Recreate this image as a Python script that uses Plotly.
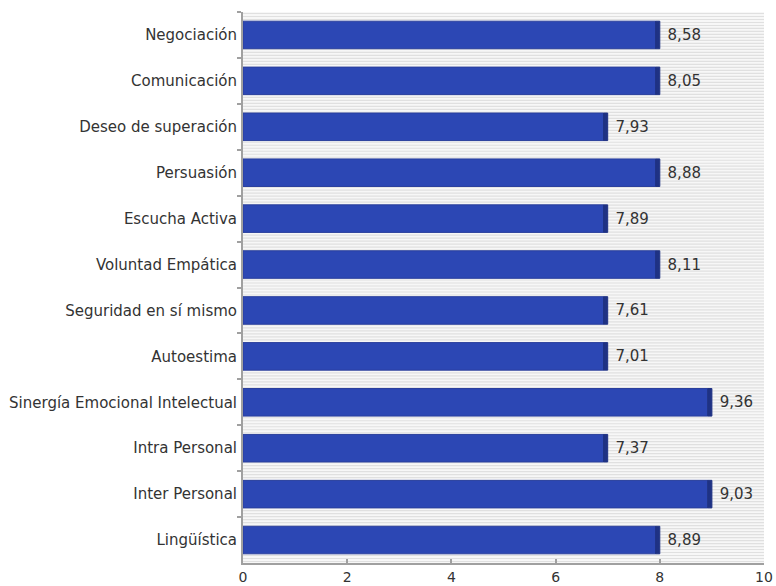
import plotly.graph_objects as go

categories = ["Negociación", "Comunicación", "Deseo de superación", "Persuasión",
              "Escucha Activa", "Voluntad Empática", "Seguridad en sí mismo", "Autoestima",
              "Sinergía Emocional Intelectual", "Intra Personal", "Inter Personal", "Lingüística"]
values = [8.58, 8.05, 7.93, 8.88, 7.89, 8.11, 7.61, 7.01, 9.36, 7.37, 9.03, 8.89]
# bar lengths as drawn in the reference (bars are truncated)
drawn = [8, 8, 7, 8, 7, 8, 7, 7, 9, 7, 9, 8]
labels = ["\u00a0" + f"{v:.2f}".replace(".", ",") for v in values]
x_ticks = [0, 2, 4, 6, 8, 10]

FS = 15
cap = 0.08
fig = go.Figure()
fig.add_trace(go.Bar(
    y=categories, x=[d - cap for d in drawn], orientation="h",
    marker=dict(color="#2c47b4", line=dict(color="#2a3f9c", width=1)),
    width=0.6, hoverinfo="skip"))
fig.add_trace(go.Bar(
    y=categories, x=[cap] * len(drawn), base=[d - cap for d in drawn], orientation="h",
    marker=dict(color="#1f3284", line=dict(color="#1f3284", width=1)),
    width=0.6, text=labels, textposition="outside", cliponaxis=False,
    textfont=dict(family="DejaVu Sans", size=FS, color="#333333"), hoverinfo="skip"))

shapes = []
n = 184
for i in range(n):
    y = (i + 0.5) / n
    shapes.append(dict(type="line", xref="x domain", yref="y domain", x0=0, x1=1, y0=y, y1=y,
                       line=dict(color="#e0e0e0", width=1.2), layer="below"))

fig.update_layout(
    width=776, height=586, barmode="overlay", showlegend=False,
    margin=dict(l=243, r=12, t=12, b=23, autoexpand=False),
    paper_bgcolor="white", plot_bgcolor="#f7f7f7",
    font=dict(family="DejaVu Sans", size=FS, color="#333333"),
    shapes=shapes, bargap=0.4,
    xaxis=dict(range=[0, 10], tickvals=x_ticks, showgrid=False, zeroline=False,
               showline=True, linecolor="#a0a0a0", linewidth=2, automargin=False,
               ticks="inside", ticklen=4, tickcolor="#a0a0a0", tickwidth=2,
               tickfont=dict(size=14, color="#333333")),
    yaxis=dict(autorange="reversed", showgrid=False, zeroline=False,
               showline=True, linecolor="#a0a0a0", linewidth=2, automargin=False,
               ticks="outside", ticklen=4, tickcolor="#a0a0a0", tickwidth=2,
               tickson="boundaries", ticklabelstandoff=1,
               tickfont=dict(size=FS, color="#333333")),
)
fig.write_html("out.html", config={"displayModeBar": False},
               post_script="document.body.style.margin='0';document.body.style.overflow='hidden';")
